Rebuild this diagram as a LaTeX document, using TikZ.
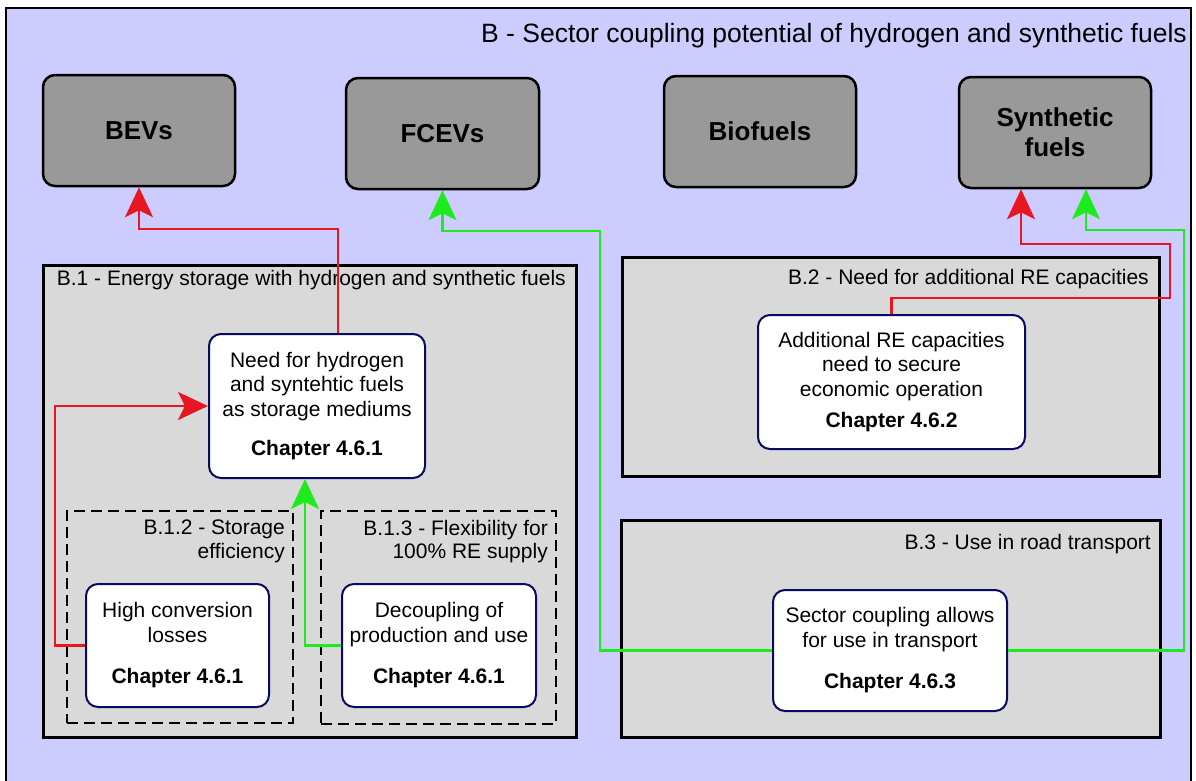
\documentclass[tikz,border=0pt]{standalone}
\usepackage{fontspec}
\setmainfont{Liberation Sans}
\usetikzlibrary{arrows.meta,calc}

\definecolor{lav}{RGB}{204,204,255}
\definecolor{catgray}{RGB}{153,153,153}
\definecolor{secgray}{RGB}{217,217,217}
\definecolor{navy}{RGB}{10,10,100}
\definecolor{linkred}{RGB}{232,22,32}
\definecolor{linkgreen}{RGB}{30,235,30}

\tikzset{
  outerframe/.style={draw=black, fill=lav, line width=2pt},
  catbox/.style={draw=black, fill=catgray, line width=2.5pt, rounded corners=12pt,
    font=\fontsize{26}{30}\selectfont\bfseries, align=center, inner sep=0pt},
  secbox/.style={draw=black, fill=secgray, line width=3pt},
  subbox/.style={draw=black, line width=2.5pt, dash pattern=on 11pt off 6pt},
  itembox/.style={draw=navy, fill=white, line width=2pt, rounded corners=12pt,
    font=\fontsize{21}{24.5}\selectfont, align=center, inner sep=0pt},
  seclabel/.style={font=\fontsize{21}{23.5}\selectfont, inner sep=0pt, align=right},
  link/.style={line width=2.5pt, -{Stealth[length=30pt, width=28pt, inset=7pt]}},
  redlink/.style={link, draw=linkred},
  greenlink/.style={link, draw=linkgreen},
}
\newcommand{\chap}[1]{{\fontsize{21}{24}\selectfont\bfseries #1}}

\begin{document}
\begin{tikzpicture}[x=1pt, y=-1pt]
\useasboundingbox (0,0) rectangle (1196,780);
\clip (0,0) rectangle (1196,780);

% outer frame and title
\draw[outerframe] (6,8) rectangle (1191,792);
\node[font=\fontsize{26.5}{30}\selectfont, inner sep=0pt, anchor=base east] (title)
  at (1187,42) {B - Sector coupling potential of hydrogen and synthetic fuels};

% vehicle / fuel categories
\node[catbox, minimum width=192pt, minimum height=111pt] (bev)  at (139,130.5) {BEVs};
\node[catbox, minimum width=193pt, minimum height=111pt] (fcev) at (442.5,133.5) {FCEVs};
\node[catbox, minimum width=192pt, minimum height=111pt] (bio)  at (760,131.5) {Biofuels};
\node[catbox, minimum width=192pt, minimum height=111pt] (syn)  at (1055,132.5) {Synthetic\\fuels};

% section B.1
\node[secbox, minimum width=533pt, minimum height=472pt] (b1) at (309.5,501) {};
\node[seclabel, anchor=base east] (b1lab) at (566,285)
  {B.1 - Energy storage with hydrogen and synthetic fuels};
\node[subbox, minimum width=226pt, minimum height=212pt] (b12) at (180,617) {};
\node[seclabel, anchor=north east] (b12lab) at (285,520) {B.1.2 - Storage\\efficiency};
\node[subbox, minimum width=235pt, minimum height=213pt] (b13) at (438.5,617.5) {};
\node[seclabel, anchor=north east] (b13lab) at (548,520) {B.1.3 - Flexibility for\\100\% RE supply};

\node[itembox, minimum width=216pt, minimum height=144pt] (need) at (317,406)
  {Need for hydrogen\\and syntehtic fuels\\as storage mediums\\[15pt]\chap{Chapter 4.6.1}};
\node[itembox, minimum width=183pt, minimum height=123pt] (high) at (177.5,645.5)
  {High conversion\\losses\\[17pt]\chap{Chapter 4.6.1}};
\node[itembox, minimum width=194pt, minimum height=123pt] (dec) at (439,645.5)
  {Decoupling of\\production and use\\[17pt]\chap{Chapter 4.6.1}};

% section B.2
\node[secbox, minimum width=537pt, minimum height=219pt] (b2) at (890.5,366.5) {};
\node[seclabel, anchor=base east] (b2lab) at (1149,284) {B.2 - Need for additional RE capacities};
\node[itembox, minimum width=267pt, minimum height=134pt] (add) at (891.5,382)
  {Additional RE capacities\\need to secure\\economic operation\\[7pt]\chap{Chapter 4.6.2}};

% section B.3
\node[secbox, minimum width=539pt, minimum height=217pt] (b3) at (890.5,628.5) {};
\node[seclabel, anchor=base east] (b3lab) at (1151,549) {B.3 - Use in road transport};
\node[itembox, minimum width=234pt, minimum height=121pt] (sc) at (890,650.5)
  {Sector coupling allows\\for use in transport\\[17pt]\chap{Chapter 4.6.3}};

% connector end points on the synthetic fuels box
\coordinate (synL) at ([xshift=-34pt]syn.south);
\coordinate (synR) at ([xshift=31pt]syn.south);

% connectors
\draw[redlink] ([xshift=21pt]need.north) |- (bev.south |- 0,229) -- (bev.south);
\draw[redlink] (high.west) -- (high.west -| 55,0) |- (need.west);
\draw[greenlink] (dec.west) -| ([xshift=-12pt]need.south);
\draw[greenlink] (sc.west) -| (600,231) -| (fcev.south);
\draw[greenlink] (sc.east) -| (1184,230) -| (synR);
\draw[redlink] (add.north) |- (1170,298) |- (synL |- 0,244) -- (synL);
\end{tikzpicture}
\end{document}
